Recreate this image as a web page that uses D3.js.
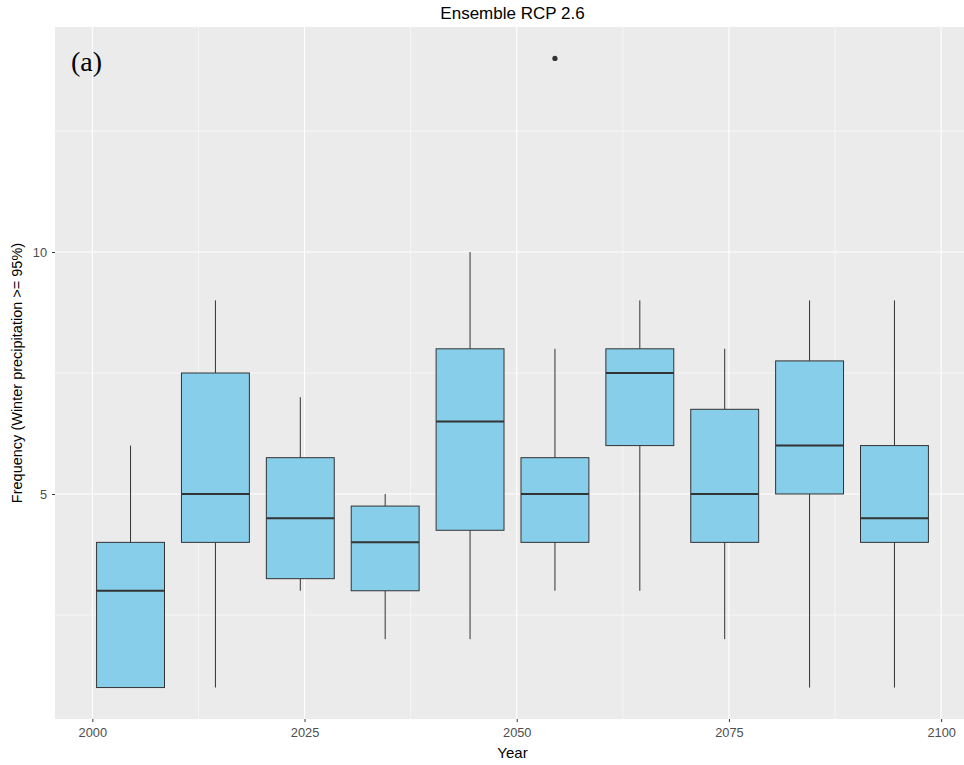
<!DOCTYPE html>
<html><head><meta charset="utf-8">
<script src="https://cdn.jsdelivr.net/npm/d3@7"></script>
<style>body{margin:0;background:#fff}svg{display:block}</style>
</head><body>
<svg id="c" width="964" height="765"></svg>
<script>
const years   = [2004.5, 2014.5, 2024.5, 2034.5, 2044.5, 2054.5, 2064.5, 2074.5, 2084.5, 2094.5];
const mins    = [1, 1, 3, 2, 2, 3, 3, 2, 1, 1];
const q1s     = [1, 4, 3.25, 3, 4.25, 4, 6, 4, 5, 4];
const medians = [3, 5, 4.5, 4, 6.5, 5, 7.5, 5, 6, 4.5];
const q3s     = [4, 7.5, 5.75, 4.75, 8, 5.75, 8, 6.75, 7.75, 6];
const maxs    = [6, 9, 7, 5, 10, 8, 9, 8, 9, 9];
const outlierYears  = [2054.5];
const outlierValues = [14];
const xTicks = [2000, 2025, 2050, 2075, 2100];
const yTicks = [5, 10];
const boxWidthYears = 8;

const svg = d3.select("#c");
const L = 55, R = 970, T = 27, B = 719;
const x = d3.scaleLinear().domain([1995.6, 2103.4]).range([L, R]);
const y = d3.scaleLinear().domain([0.35, 14.65]).range([B, T]);

svg.append("defs").append("clipPath").attr("id","clip")
  .append("rect").attr("x",L).attr("y",T).attr("width",R-L).attr("height",B-T);

svg.append("rect").attr("x",L).attr("y",T).attr("width",R-L).attr("height",B-T).attr("fill","#ebebeb");
const g = svg.append("g").attr("clip-path","url(#clip)");

// minor grid
const xMinor = [2012.5, 2037.5, 2062.5, 2087.5];
const yMinor = [2.5, 7.5, 12.5];
g.selectAll(".xm").data(xMinor).enter().append("line")
  .attr("x1",d=>x(d)).attr("x2",d=>x(d)).attr("y1",T).attr("y2",B)
  .attr("stroke","#fff").attr("stroke-width",0.55);
g.selectAll(".ym").data(yMinor).enter().append("line")
  .attr("x1",L).attr("x2",R).attr("y1",d=>y(d)).attr("y2",d=>y(d))
  .attr("stroke","#fff").attr("stroke-width",0.55);
// major grid
g.selectAll(".xM").data(xTicks).enter().append("line")
  .attr("x1",d=>x(d)).attr("x2",d=>x(d)).attr("y1",T).attr("y2",B)
  .attr("stroke","#fff").attr("stroke-width",1.1);
g.selectAll(".yM").data(yTicks).enter().append("line")
  .attr("x1",L).attr("x2",R).attr("y1",d=>y(d)).attr("y2",d=>y(d))
  .attr("stroke","#fff").attr("stroke-width",1.1);

// boxes
const idx = d3.range(years.length);
const hw = (x(boxWidthYears) - x(0)) / 2;
g.selectAll(".wl").data(idx).enter().append("line")
  .attr("x1",i=>x(years[i])).attr("x2",i=>x(years[i]))
  .attr("y1",i=>y(maxs[i])).attr("y2",i=>y(q3s[i]))
  .attr("stroke","#333").attr("stroke-width",1);
g.selectAll(".wl2").data(idx).enter().append("line")
  .attr("x1",i=>x(years[i])).attr("x2",i=>x(years[i]))
  .attr("y1",i=>y(q1s[i])).attr("y2",i=>y(mins[i]))
  .attr("stroke","#333").attr("stroke-width",1);
g.selectAll(".bx").data(idx).enter().append("rect")
  .attr("x",i=>x(years[i])-hw).attr("width",2*hw)
  .attr("y",i=>y(q3s[i])).attr("height",i=>y(q1s[i])-y(q3s[i]))
  .attr("fill","#87ceeb").attr("stroke","#333").attr("stroke-width",1);
g.selectAll(".md").data(idx).enter().append("line")
  .attr("x1",i=>x(years[i])-hw).attr("x2",i=>x(years[i])+hw)
  .attr("y1",i=>y(medians[i])).attr("y2",i=>y(medians[i]))
  .attr("stroke","#333").attr("stroke-width",2);
g.selectAll(".ol").data(d3.range(outlierYears.length)).enter().append("circle")
  .attr("cx",i=>x(outlierYears[i])).attr("cy",i=>y(outlierValues[i])).attr("r",2.6)
  .attr("fill","#333");

// axes
const xa = svg.append("g").attr("transform",`translate(0,${B})`)
  .call(d3.axisBottom(x).tickValues(xTicks).tickSize(3).tickPadding(6).tickFormat(d3.format("d")));
const ya = svg.append("g").attr("transform",`translate(${L},0)`)
  .call(d3.axisLeft(y).tickValues(yTicks).tickSize(3).tickPadding(5));
[xa, ya].forEach(a => {
  a.select(".domain").remove();
  a.selectAll("line").attr("stroke","#333");
  a.selectAll("text").attr("fill","#4d4d4d").style("font-family","Arial, 'Liberation Sans', sans-serif").style("font-size","12.8px");
});

svg.append("text").attr("x",(L+R)/2).attr("y",19).attr("text-anchor","middle")
  .style("font-family","Arial, 'Liberation Sans', sans-serif").style("font-size","17px").attr("fill","#000")
  .text("Ensemble RCP 2.6");
svg.append("text").attr("x",(L+R)/2).attr("y",758).attr("text-anchor","middle")
  .style("font-family","Arial, 'Liberation Sans', sans-serif").style("font-size","15px").attr("fill","#000")
  .text("Year");
svg.append("text").attr("transform",`translate(22,${(T+B)/2}) rotate(-90)`).attr("text-anchor","middle")
  .style("font-family","Arial, 'Liberation Sans', sans-serif").style("font-size","14.5px").attr("fill","#000")
  .text("Frequency (Winter precipitation >= 95%)");
svg.append("text").attr("x",71).attr("y",71)
  .style("font-family","'Liberation Serif', 'Times New Roman', serif").style("font-size","28px").attr("fill","#000")
  .text("(a)");
</script>
</body></html>
